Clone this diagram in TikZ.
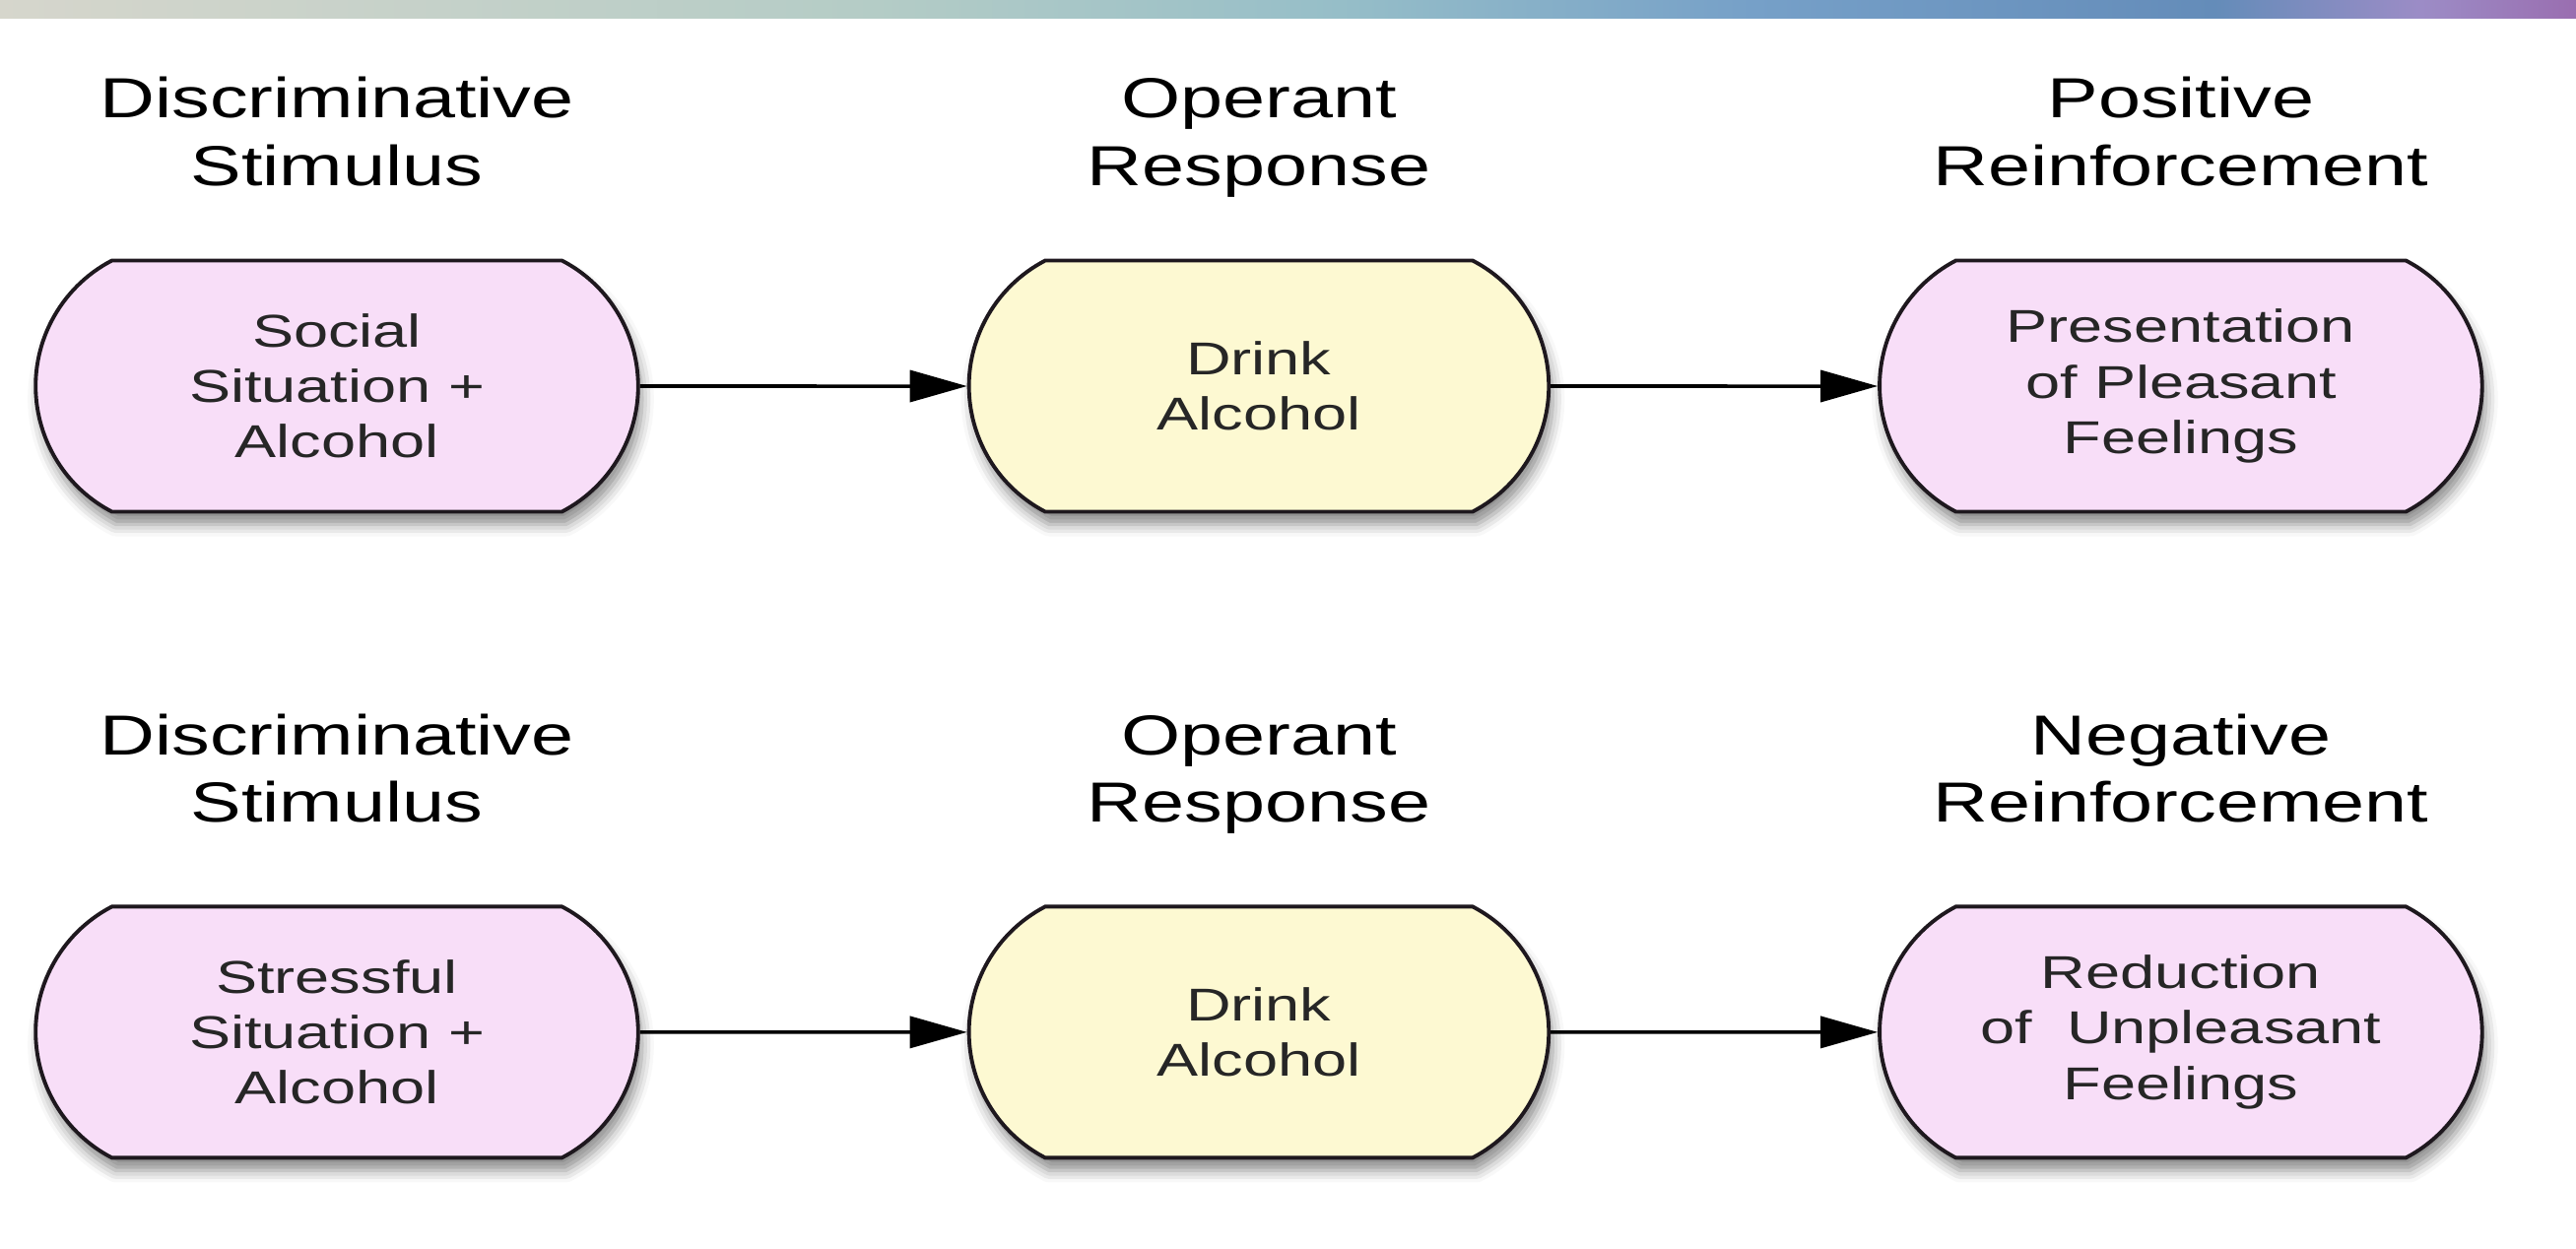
\documentclass[tikz,border=0pt]{standalone}
\usepackage{fontspec}
\setmainfont{Liberation Sans}[FakeStretch=1.35]
\usepackage{xcolor}
\usepackage{tikz}
\usetikzlibrary{shapes.misc,arrows.meta,positioning,shadows.blur}

\definecolor{pinkfill}{RGB}{248,222,248}
\definecolor{yellowfill}{RGB}{253,249,210}
\definecolor{edge}{RGB}{30,24,30}
\definecolor{barA}{RGB}{214,214,204}
\definecolor{barB}{RGB}{180,204,198}
\definecolor{barC}{RGB}{150,190,200}
\definecolor{barD}{RGB}{118,160,200}
\definecolor{barE}{RGB}{100,140,185}
\definecolor{barF}{RGB}{156,140,198}
\definecolor{barG}{RGB}{154,110,176}
\pgfdeclarehorizontalshading{topbar}{100bp}{color(0bp)=(barA); color(25bp)=(barA);
  color(42bp)=(barB); color(51bp)=(barC); color(59bp)=(barD); color(68bp)=(barE);
  color(72bp)=(barF); color(75bp)=(barG); color(100bp)=(barG)}

\begin{document}
\begin{tikzpicture}[
  box/.style={rounded rectangle, rounded rectangle arc length=125,
              draw=edge, line width=1.1pt, fill=pinkfill,
              minimum width=6.35cm, minimum height=2.55cm, align=center,
              text=black!85, font=\fontsize{13.3}{16}\selectfont,
              blur shadow={shadow xshift=0.4mm, shadow yshift=-1.3mm,
                           shadow blur radius=1.2mm, shadow opacity=45}},
  resp/.style={box, fill=yellowfill, minimum width=6.12cm},
  lab/.style={align=center, text depth=4pt,
              font=\fontsize{16.3}{19.6}\selectfont},
  arr/.style={-{Triangle[length=5.8mm,width=3.2mm]}, line width=1pt},
  node distance=3.32cm
]
\useasboundingbox (0,0) rectangle (26.15,-12.67);
\shade[shading=topbar] (0,0) rectangle (26.15,-0.18);

% positive reinforcement
\node[box] (stim1) at (3.42,-3.92) {Social\\Situation +\\Alcohol};
\node[resp, right=of stim1] (resp1) {Drink\\Alcohol};
\node[box, right=of resp1]  (rein1) {Presentation\\of Pleasant\\Feelings};
\node[lab, above=0.48cm of stim1] (stimlab1) {Discriminative\\Stimulus};
\node[lab, above=0.48cm of resp1] (resplab1) {Operant\\Response};
\node[lab, above=0.48cm of rein1] (reinlab1) {Positive\\Reinforcement};
\draw[arr] (stim1) -- (resp1);
\draw[arr] (resp1) -- (rein1);

% negative reinforcement
\node[box, below=3.97cm of stim1] (stim2) {Stressful\\Situation +\\Alcohol};
\node[resp, right=of stim2] (resp2) {Drink\\Alcohol};
\node[box, right=of resp2]  (rein2) {Reduction\\of \ Unpleasant\\Feelings};
\node[lab, above=0.57cm of stim2] (stimlab2) {Discriminative\\Stimulus};
\node[lab, above=0.57cm of resp2] (resplab2) {Operant\\Response};
\node[lab, above=0.57cm of rein2] (reinlab2) {Negative\\Reinforcement};
\draw[arr] (stim2) -- (resp2);
\draw[arr] (resp2) -- (rein2);
\end{tikzpicture}
\end{document}
